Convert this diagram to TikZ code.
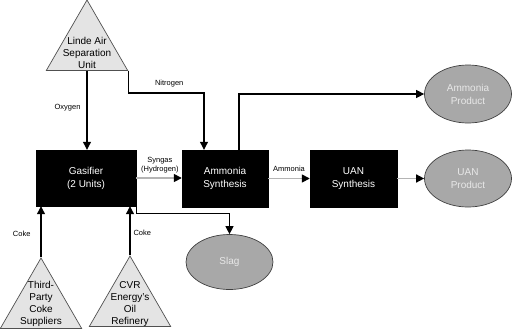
\documentclass[tikz,border=0pt]{standalone}
\usepackage{fontspec}
\setmainfont{Liberation Sans}
\usetikzlibrary{arrows.meta,shapes.geometric,positioning}

\definecolor{trifill}{HTML}{E4E4E4}
\definecolor{triline}{HTML}{505050}
\definecolor{prodfill}{HTML}{A8A8A8}
\definecolor{prodline}{HTML}{404040}
\definecolor{prodtext}{HTML}{E8E8E8}
\definecolor{flowgray}{HTML}{B4B4B4}

\begin{document}
\begin{tikzpicture}[x=1pt,y=-1pt]
\tikzset{
  unitbox/.style={rectangle,fill=black,draw=black,text=white,minimum width=100pt,minimum height=56pt,inner sep=1pt,align=center,font=\fontsize{10}{13}\selectfont},
  supplytri/.style={regular polygon,regular polygon sides=3,minimum size=94pt,inner sep=0pt,fill=trifill,draw=triline,line width=0.7pt},
  supplytext/.style={align=center,inner sep=0pt,font=\fontsize{10}{11.8}\selectfont},
  productell/.style={ellipse,fill=prodfill,draw=prodline,line width=0.7pt,text=prodtext,minimum width=87pt,minimum height=58pt,inner sep=0pt,align=center,font=\fontsize{10}{13}\selectfont},
  flowlabel/.style={inner sep=0pt,align=center,font=\fontsize{7.5}{9.5}\selectfont},
  directed/.style={draw=black,line width=1.1pt,-{Triangle[length=8pt,width=8pt]}},
  grayflow/.style={draw=flowgray,line width=1.6pt,-{Triangle[length=8pt,width=8pt,color=black]}}
}
\useasboundingbox (0,0) rectangle (512,330);
% suppliers
\node[supplytri] (n_linde) at (87,47) {};
\node[supplytext] (t_linde) at (87,53) {Linde Air\\Separation\\Unit};
\node[supplytri] (n_third) at (41,305) {};
\node[supplytext] (t_third) at (41,304) {Third-\\Party\\Coke\\Suppliers};
\node[supplytri] (n_cvr) at (130,303) {};
\node[supplytext] (t_cvr) at (130,304) {CVR\\Energy's\\Oil\\Refinery};
% process units
\node[unitbox] (n_gas) at (86,178) {Gasifier\\(2 Units)};
\node[unitbox,minimum width=86pt,minimum height=57pt] (n_amm) at (225,178.5) {Ammonia\\Synthesis};
\node[unitbox,minimum width=87pt,minimum height=57pt] (n_uan) at (353.5,178.5) {UAN\\Synthesis};
% products
\node[productell] (n_ammprod) at (468,94) {Ammonia\\Product};
\node[productell,minimum height=57pt] (n_uanprod) at (468,178.5) {UAN\\Product};
\node[productell,minimum height=55pt] (n_slag) at (229.5,262) {Slag};
% corners
\coordinate (c_nit) at (204,93);
\coordinate (c_ammup) at (239,93);
\draw[directed] (n_linde.side 2) -- (n_linde.side 2 |- n_gas.north)
  node[flowlabel,pos=0.47,left=6pt] {Oxygen};
\draw[directed] (n_linde.corner 3) |- (c_nit)
  node[flowlabel,pos=0.77,above=5pt] {Nitrogen} -- (c_nit |- n_amm.north);
\draw[directed] (c_ammup |- n_amm.north) |- (n_ammprod.west);
\draw[grayflow] (n_gas.east) -- (n_gas.east -| n_amm.west)
  node[flowlabel,pos=0.52,above=4pt] {Syngas\\(Hydrogen)};
\draw[grayflow] (n_amm.east) -- (n_uan.west)
  node[flowlabel,pos=0.5,above=6pt] {Ammonia};
\draw[grayflow] (n_uan.east) -- (n_uanprod.west);
\draw[directed] (n_gas.south east) -- ++(0,7) -| (n_slag.north);
\draw[directed] (n_third.corner 1) -- (n_third.corner 1 |- n_gas.south)
  node[flowlabel,pos=0.46,left=10pt] {Coke};
\draw[directed] (n_cvr.corner 1) -- (n_cvr.corner 1 |- n_gas.south)
  node[flowlabel,pos=0.46,right=3pt] {Coke};
\end{tikzpicture}
\end{document}
